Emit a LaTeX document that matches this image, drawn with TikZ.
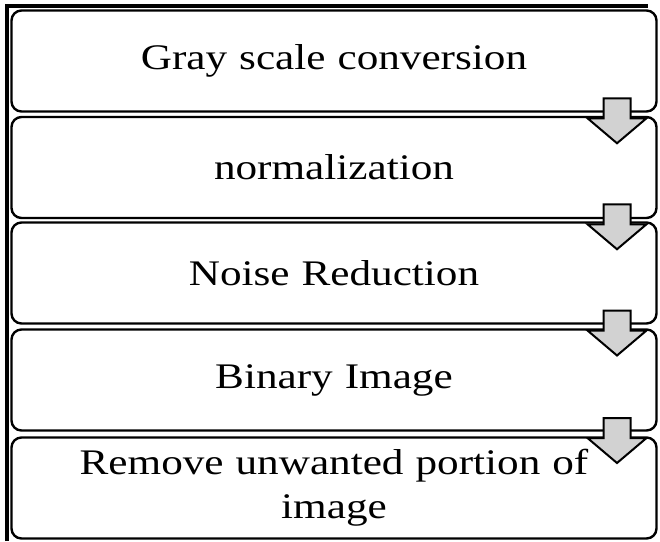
\documentclass[tikz,border=0pt]{standalone}
\usepackage{fontspec}
\setmainfont[FakeStretch=1.2]{Liberation Serif}
\usetikzlibrary{calc}
\begin{document}
\begin{tikzpicture}[x=1pt,y=-1pt,
  stage/.style={draw=black, line width=2.4pt, rounded corners=10pt, fill=white,
    minimum width=645pt, minimum height=101pt, inner sep=0pt,
    font=\fontsize{36}{44}\selectfont, align=center, text width=620pt},
  flowarrow/.style={draw=black, line width=2pt, fill=gray!35, line join=miter},
  downarrow/.pic={\draw[flowarrow] (-13.5,-16) -- (13.5,-16) -- (13.5,4) -- (29.5,4)
      -- (0,29) -- (-29.5,4) -- (-13.5,4) -- cycle;}]
\useasboundingbox (0,0) rectangle (660,541);
\fill[white] (0,0) rectangle (660,541);
% frame on the left and top
\draw[line width=4pt] (7,541) -- (7,6) -- (648,6);
% processing stages
\node[stage] (b1) at (334,61)  {Gray scale conversion};
\node[stage] (b2) at (334,167.5) {normalization};
\node[stage] (b3) at (334,273) {Noise Reduction};
\node[stage] (b4) at (334,380) {Binary Image};
\node[stage] (b5) at (334,488) {Remove unwanted portion of\\image};
% arrows between stages
\coordinate (ax) at (617,0);
\coordinate (g1) at ($(b1.south)!0.5!(b2.north)$);
\coordinate (g2) at ($(b2.south)!0.5!(b3.north)$);
\coordinate (g3) at ($(b3.south)!0.5!(b4.north)$);
\coordinate (g4) at ($(b4.south)!0.5!(b5.north)$);
\pic at (g1 -| ax) {downarrow};
\pic at (g2 -| ax) {downarrow};
\pic at (g3 -| ax) {downarrow};
\pic at (g4 -| ax) {downarrow};
\end{tikzpicture}
\end{document}
